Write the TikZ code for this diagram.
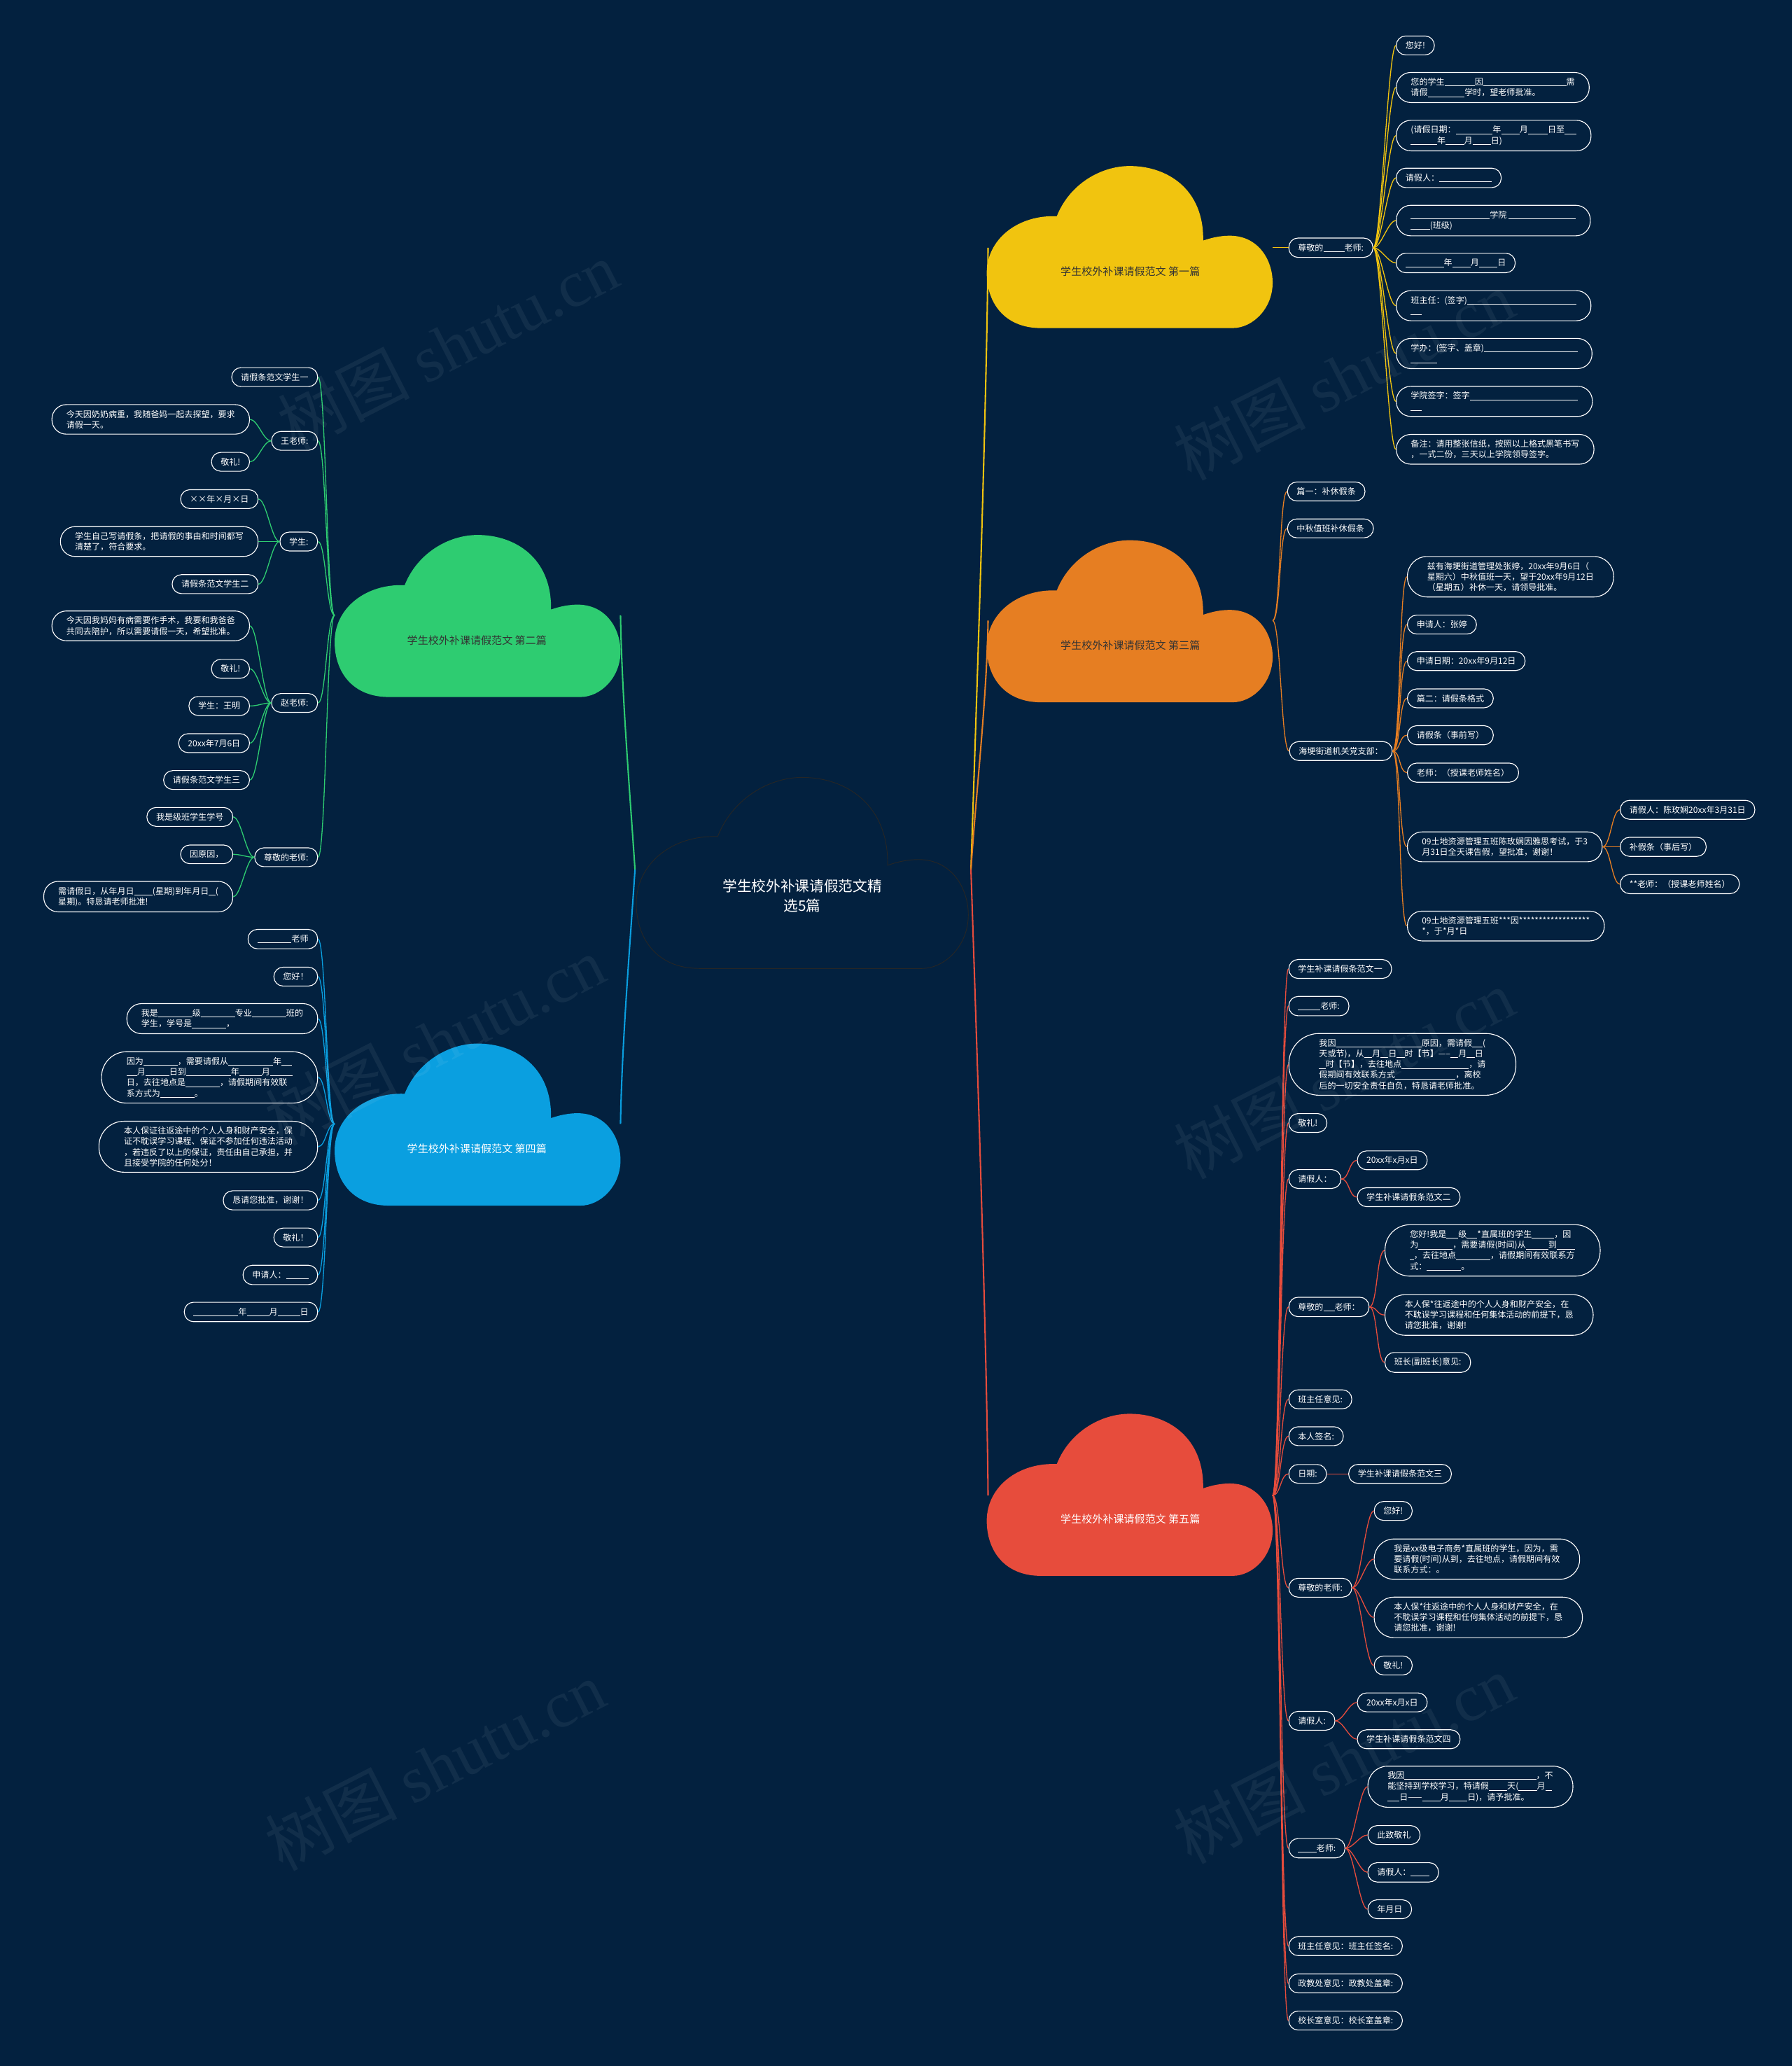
\documentclass[tikz,border=0pt]{standalone}
\usepackage{fontspec}
\setmainfont{Noto Sans CJK SC}
\newfontfamily\wmfont{Liberation Serif}

\definecolor{bg}{HTML}{03213F}
\definecolor{ylw}{HTML}{F1C40F}
\definecolor{org}{HTML}{E67E22}
\definecolor{grn}{HTML}{2ECC71}
\definecolor{blu}{HTML}{0A9FE0}
\definecolor{rd}{HTML}{E74C3C}

% blank line to fill in
\newcommand{\bk}[1]{\rule[-0.9pt]{#1pt}{0.45pt}}
\newcommand{\leaffont}{\fontsize{6.4}{8.1}\selectfont}
% cloud outline in a unit box, y downwards
\newcommand{\cloudshape}{(0.19,1) .. controls (0.06,1) and (0,0.84) .. (0,0.66)
  .. controls (0,0.45) and (0.11,0.30) .. (0.245,0.31)
  .. controls (0.29,0.11) and (0.40,0) .. (0.5,0)
  .. controls (0.63,0) and (0.76,0.14) .. (0.757,0.46)
  .. controls (0.79,0.44) and (0.82,0.43) .. (0.85,0.43)
  .. controls (0.95,0.43) and (1,0.58) .. (1,0.72)
  .. controls (1,0.88) and (0.93,1) .. (0.86,1) -- cycle}

\tikzset{
  leaf/.style={rectangle, rounded corners=#1, inner xsep=#1, draw=white, line width=0.6pt,
    fill=bg, text=white, inner ysep=4.2pt, align=left, font=\leaffont},
  leaf/.default=7pt,
  lbl/.style={font=\fontsize{8}{10}\selectfont, text=#1},
  twig/.style={line width=0.7pt, draw=#1},
  branch/.style={line width=1.1pt, draw=#1},
  wm/.style={text=white, opacity=0.06, rotate=27, font=\fontsize{50}{50}\selectfont},
}

\begin{document}
\begin{tikzpicture}[x=1pt, y=-1pt]

  \fill[bg] (0,0) rectangle (1360,1568);
  \useasboundingbox (0,0) rectangle (1360,1568);

  % 1. Nuvole
  \begin{scope}[shift={(483,590)}, xscale=252, yscale=145]
    \filldraw[fill=bg, draw=black!85, line width=0.5pt] \cloudshape;
  \end{scope}
  \begin{scope}[shift={(749,126)}, xscale=217, yscale=123]
    \fill[ylw] \cloudshape;
  \end{scope}
  \begin{scope}[shift={(749,410)}, xscale=217, yscale=123]
    \fill[org] \cloudshape;
  \end{scope}
  \begin{scope}[shift={(749,1073)}, xscale=217, yscale=123]
    \fill[rd] \cloudshape;
  \end{scope}
  \begin{scope}[shift={(254,406)}, xscale=217, yscale=123]
    \fill[grn] \cloudshape;
  \end{scope}
  \begin{scope}[shift={(254,792)}, xscale=217, yscale=123]
    \fill[blu] \cloudshape;
  \end{scope}

  \node[font=\fontsize{11}{14.8}\selectfont, text=white, align=center] (ct) at (609,680) {学生校外补课请假范文精\\选5篇};
  \node[lbl=black!80] (yc) at (858,206) {学生校外补课请假范文 第一篇};
  \node[lbl=black!80] (oc) at (858,490) {学生校外补课请假范文 第三篇};
  \node[lbl=white] (rc) at (858,1153) {学生校外补课请假范文 第五篇};
  \node[lbl=black!80] (gc) at (362,486) {学生校外补课请假范文 第二篇};
  \node[lbl=white] (bc) at (362,872) {学生校外补课请假范文 第四篇};

  \coordinate (cR) at (737,660);
  \coordinate (cL) at (482,660);
  \coordinate (ycL) at (750,188);  \coordinate (ycR) at (966,188);
  \coordinate (ocL) at (750,471);  \coordinate (ocR) at (966,471);
  \coordinate (rcL) at (750,1135); \coordinate (rcR) at (966,1135);
  \coordinate (gcR) at (471,467);  \coordinate (gcL) at (254,467);
  \coordinate (bcR) at (471,853);  \coordinate (bcL) at (254,853);

  % 2. Rami principali
  \draw[branch=ylw] (cR) .. controls +(4,-120) and +(-1,120) .. (ycL);
  \draw[branch=org] (cR) .. controls +(4,-60) and +(-1,60) .. (ocL);
  \draw[branch=rd] (cR) .. controls +(4,120) and +(-1,-120) .. (rcL);
  \draw[branch=grn] (cL) .. controls +(-4,-60) and +(1,60) .. (gcR);
  \draw[branch=blu] (cL) .. controls +(-4,60) and +(1,-60) .. (bcR);

  % 3. Primo ramo (giallo)
  \node[leaf, anchor=west] (yt) at (978,188) {尊敬的\bk{16}老师:};
  \node[leaf, anchor=west] (y1) at (1059.6,34.5) {您好!};
  \node[leaf=11pt, anchor=west] (y2) at (1059.6,66.4) {您的学生\bk{23}因\bk{63}需\\请假\bk{28}学时，望老师批准。};
  \node[leaf=11pt, anchor=west] (y3) at (1059.6,102.9) {(请假日期：\bk{28}年\bk{14}月\bk{15}日至\bk{9}\\\bk{20}年\bk{14}月\bk{14}日)};
  \node[leaf, anchor=west] (y4) at (1059.6,135) {请假人：\bk{40}};
  \node[leaf=11pt, anchor=west] (y5) at (1059.6,167.4) {\bk{60}学院 \bk{51}\\\bk{14.5}(班级)};
  \node[leaf, anchor=west] (y6) at (1059.6,199.6) {\bk{29}年\bk{14}月\bk{14}日};
  \node[leaf=11pt, anchor=west] (y7) at (1059.6,232) {班主任：(签字)\bk{83}\\\bk{8.5}};
  \node[leaf=11pt, anchor=west] (y8) at (1059.6,268.3) {学办：(签字、盖章)\bk{71}\\\bk{20}};
  \node[leaf=11pt, anchor=west] (y9) at (1059.6,304.6) {学院签字：签字\bk{82}\\\bk{8.5}};
  \node[leaf=11pt, anchor=west] (y10) at (1059.6,341) {备注：请用整张信纸，按照以上格式黑笔书写\\，一式二份，三天以上学院领导签字。};

  \draw[twig=ylw] (ycR) -- (yt.west);
  \foreach \i in {1,...,10}
    \draw[twig=ylw] (yt.east) .. controls +(6,0) and +(-6,0) .. (y\i.west);

  % 4. Terzo ramo (arancione)
  \node[leaf, anchor=west] (o1) at (977,373) {篇一：补休假条};
  \node[leaf, anchor=west] (o2) at (977,401) {中秋值班补休假条};
  \node[leaf, anchor=west] (o3) at (978.5,570) {海埂街道机关党支部：};
  \node[leaf=15pt, anchor=west] (o31) at (1068,437.7) {兹有海埂街道管理处张婷，20xx年9月6日（\\星期六）中秋值班一天，望于20xx年9月12日\\（星期五）补休一天，请领导批准。};
  \node[leaf, anchor=west] (o32) at (1068,474) {申请人：张婷};
  \node[leaf, anchor=west] (o33) at (1068,501.7) {申请日期：20xx年9月12日};
  \node[leaf, anchor=west] (o34) at (1068,530) {篇二：请假条格式};
  \node[leaf, anchor=west] (o35) at (1068,558) {请假条（事前写）};
  \node[leaf, anchor=west] (o36) at (1068,586.4) {老师：（授课老师姓名）};
  \node[leaf=11pt, anchor=west] (o37) at (1068,642.7) {09土地资源管理五班陈玫娴因雅思考试，于3\\月31日全天课告假，望批准，谢谢！};
  \node[leaf=11pt, anchor=west] (o38) at (1068,702.8) {09土地资源管理五班***因******************\\*，于*月*日};
  \node[leaf, anchor=west] (o371) at (1229.6,614.6) {请假人：陈玫娴20xx年3月31日};
  \node[leaf, anchor=west] (o372) at (1229.6,642.7) {补假条（事后写）};
  \node[leaf, anchor=west] (o373) at (1229.6,671) {**老师：（授课老师姓名）};

  \foreach \n in {o1,o2,o3}
    \draw[twig=org] (ocR) .. controls +(6,0) and +(-6,0) .. (\n.west);
  \foreach \i in {1,...,8}
    \draw[twig=org] (o3.east) .. controls +(6,0) and +(-6,0) .. (o3\i.west);
  \foreach \i in {1,2,3}
    \draw[twig=org] (o37.east) .. controls +(6,0) and +(-6,0) .. (o37\i.west);

  % 5. Quinto ramo (rosso)
  \node[leaf, anchor=west] (r1) at (978,735.4) {学生补课请假条范文一};
  \node[leaf, anchor=west] (r2) at (978,763.6) {\bk{17}老师:};
  \node[leaf=23pt, anchor=west] (r3) at (978,807.8) {我因\bk{65}原因，需请假\bk{8}(\\天或节)，从\bk{6}月\bk{6}日\bk{6}时【节】-----\bk{6}月\bk{6}日\\\bk{5}时【节】，去往地点\bk{51}，请\\假期间有效联系方式\bk{46}，离校\\后的一切安全责任自负，特恳请老师批准。};
  \node[leaf, anchor=west] (r4) at (978,852.3) {敬礼!};
  \node[leaf, anchor=west] (r5) at (978,894.8) {请假人：};
  \node[leaf, anchor=west] (r51) at (1030,880.6) {20xx年x月x日};
  \node[leaf, anchor=west] (r52) at (1030,908.6) {学生补课请假条范文二};
  \node[leaf, anchor=west] (r6) at (978,991.9) {尊敬的\bk{8.5}老师：};
  \node[leaf=19pt, anchor=west] (r61) at (1051,949) {您好!我是\bk{9}级\bk{8}*直属班的学生\bk{17}，因\\为\bk{26}，需要请假(时间)从\bk{17}到\bk{14}\\\bk{3}，去往地点\bk{26}，请假期间有效联系方\\式：\bk{26}。};
  \node[leaf=15pt, anchor=west] (r62) at (1051,998) {本人保*往返途中的个人人身和财产安全，在\\不耽误学习课程和任何集体活动的前提下，恳\\请您批准，谢谢!};
  \node[leaf, anchor=west] (r63) at (1051,1034) {班长(副班长)意见:};
  \node[leaf, anchor=west] (r7) at (978,1062) {班主任意见:};
  \node[leaf, anchor=west] (r8) at (978,1090) {本人签名:};
  \node[leaf, anchor=west] (r9) at (978,1118.6) {日期:};
  \node[leaf, anchor=west] (r91) at (1023.4,1118.6) {学生补课请假条范文三};
  \node[leaf, anchor=west] (r10) at (978,1205) {尊敬的老师:};
  \node[leaf, anchor=west] (r101) at (1042.8,1146.7) {您好!};
  \node[leaf=15pt, anchor=west] (r102) at (1042.8,1183.3) {我是xx级电子商务*直属班的学生，因为，需\\要请假(时间)从到，去往地点，请假期间有效\\联系方式：。};
  \node[leaf=15pt, anchor=west] (r103) at (1042.8,1227.5) {本人保*往返途中的个人人身和财产安全，在\\不耽误学习课程和任何集体活动的前提下，恳\\请您批准，谢谢!};
  \node[leaf, anchor=west] (r104) at (1042.8,1264) {敬礼!};
  \node[leaf, anchor=west] (r11) at (978,1306) {请假人:};
  \node[leaf, anchor=west] (r111) at (1030,1292) {20xx年x月x日};
  \node[leaf, anchor=west] (r112) at (1030,1320) {学生补课请假条范文四};
  \node[leaf, anchor=west] (r12) at (978,1402.7) {\bk{14}老师:};
  \node[leaf=15pt, anchor=west] (r121) at (1038,1356) {我因\bk{100}，不\\能坚持到学校学习，特请假\bk{14}天(\bk{14}月\bk{5}\\\bk{9}日——\bk{14}月\bk{14}日)，请予批准。};
  \node[leaf, anchor=west] (r122) at (1038,1392.7) {此致敬礼};
  \node[leaf, anchor=west] (r123) at (1038,1421) {请假人：\bk{14}};
  \node[leaf, anchor=west] (r124) at (1038,1449) {年月日};
  \node[leaf, anchor=west] (r13) at (978,1477) {班主任意见：班主任签名:};
  \node[leaf, anchor=west] (r14) at (978,1505.3) {政教处意见：政教处盖章:};
  \node[leaf, anchor=west] (r15) at (978,1533.5) {校长室意见：校长室盖章:};

  \foreach \i in {1,...,15}
    \draw[twig=rd] (rcR) .. controls +(6,0) and +(-6,0) .. (r\i.west);
  \foreach \p/\c in {r5/r51, r5/r52, r6/r61, r6/r62, r6/r63, r9/r91,
                     r10/r101, r10/r102, r10/r103, r10/r104, r11/r111, r11/r112,
                     r12/r121, r12/r122, r12/r123, r12/r124}
    \draw[twig=rd] (\p.east) .. controls +(6,0) and +(-6,0) .. (\c.west);

  % 6. Secondo ramo (verde)
  \node[leaf, anchor=east] (g1) at (241.4,286.2) {请假条范文学生一};
  \node[leaf, anchor=east] (g2) at (241.4,334.6) {王老师:};
  \node[leaf=11pt, anchor=east] (g21) at (189.7,318.3) {今天因奶奶病重，我随爸妈一起去探望，要求\\请假一天。};
  \node[leaf, anchor=east] (g22) at (189.7,350.5) {敬礼!};
  \node[leaf, anchor=east] (g3) at (241.4,411) {学生:};
  \node[leaf, anchor=east] (g31) at (196.2,378.8) {××年×月×日};
  \node[leaf=11pt, anchor=east] (g32) at (196.2,411) {学生自己写请假条，把请假的事由和时间都写\\清楚了，符合要求。};
  \node[leaf, anchor=east] (g33) at (196.2,443.3) {请假条范文学生二};
  \node[leaf, anchor=east] (g4) at (241.4,533.5) {赵老师:};
  \node[leaf=11pt, anchor=east] (g41) at (189.7,475) {今天因我妈妈有病需要作手术，我要和我爸爸\\共同去陪护，所以需要请假一天，希望批准。};
  \node[leaf, anchor=east] (g42) at (189.7,507.6) {敬礼!};
  \node[leaf, anchor=east] (g43) at (189.7,535.8) {学生：王明};
  \node[leaf, anchor=east] (g44) at (189.7,564) {20xx年7月6日};
  \node[leaf, anchor=east] (g45) at (189.7,592) {请假条范文学生三};
  \node[leaf, anchor=east] (g5) at (241.4,650.6) {尊敬的老师:};
  \node[leaf, anchor=east] (g51) at (177,620) {我是级班学生学号};
  \node[leaf, anchor=east] (g52) at (177,648.4) {因原因，};
  \node[leaf=11pt, anchor=east] (g53) at (177,680.5) {需请假日，从年月日\bk{14}(星期)到年月日\bk{5}(\\星期)。特恳请老师批准!};

  \foreach \i in {1,...,5}
    \draw[twig=grn] (gcL) .. controls +(-6,0) and +(6,0) .. (g\i.east);
  \foreach \p/\c in {g2/g21, g2/g22, g3/g31, g3/g32, g3/g33,
                     g4/g41, g4/g42, g4/g43, g4/g44, g4/g45,
                     g5/g51, g5/g52, g5/g53}
    \draw[twig=grn] (\p.west) .. controls +(-6,0) and +(6,0) .. (\c.east);

  % 7. Quarto ramo (blu)
  \node[leaf, anchor=east] (b1) at (241.4,712.7) {\bk{26}老师};
  \node[leaf, anchor=east] (b2) at (241.4,741.2) {您好！};
  \node[leaf=11pt, anchor=east] (b3) at (241.4,773.1) {我是\bk{26}级\bk{26}专业\bk{26}班的\\学生，学号是\bk{26}，};
  \node[leaf=19pt, anchor=east] (b4) at (241.4,817.7) {因为\bk{26}，需要请假从\bk{34}年\bk{8}\\\bk{8}月\bk{18}日到\bk{34}年\bk{17}月\bk{17}\\日，去往地点是\bk{26}，请假期间有效联\\系方式为\bk{26}。};
  \node[leaf=19pt, anchor=east] (b5) at (241.4,870.3) {本人保证往返途中的个人人身和财产安全，保\\证不耽误学习课程、保证不参加任何违法活动\\，若违反了以上的保证，责任由自己承担，并\\且接受学院的任何处分！};
  \node[leaf, anchor=east] (b6) at (241.4,911) {恳请您批准，谢谢！};
  \node[leaf, anchor=east] (b7) at (241.4,939.2) {敬礼！};
  \node[leaf, anchor=east] (b8) at (241.4,967.6) {申请人：\bk{17}};
  \node[leaf, anchor=east] (b9) at (241.4,995.7) {\bk{34}年\bk{17}月\bk{17}日};

  \foreach \i in {1,...,9}
    \draw[twig=blu] (bcL) .. controls +(-6,0) and +(6,0) .. (b\i.east);

  % 8. Filigrana
  \foreach \p in {(340,262), (1020,285), (330,790), (1020,815), (330,1340), (1020,1335)}
    \node[wm] at \p {树图 {\wmfont shutu.cn}};

\end{tikzpicture}
\end{document}
